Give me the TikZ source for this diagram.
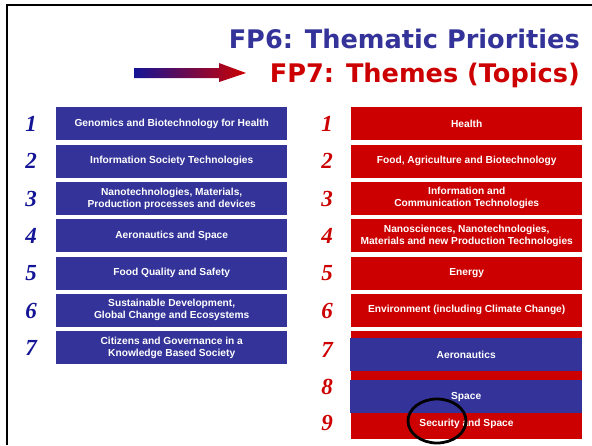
\documentclass[tikz,border=0pt]{standalone}
\usepackage{fontspec}
\setmainfont{Liberation Sans}
\newfontfamily\titlefont{DejaVu Sans}
\newfontfamily\numfont{Liberation Serif}
\definecolor{fpblue}{RGB}{51,51,153}
\definecolor{fpred}{RGB}{204,0,0}
\definecolor{numblue}{RGB}{20,20,150}
\newcommand{\rh}{37.33}

\begin{document}
\begin{tikzpicture}[x=1pt,y=-1pt,
    rect/.style={rectangle, anchor=north west, minimum width=231pt, minimum height=33pt, inner sep=0pt, text=white, align=center, font=\fontsize{10.2}{12}\selectfont\bfseries},
    bluebox/.style={rect, fill=fpblue},
    redbox/.style={rect, fill=fpred},
    num/.style={font=\numfont\fontsize{23}{23}\selectfont\bfseries\itshape, inner sep=0pt}]
    \useasboundingbox (0,0) rectangle (592,445);

    % frame
    \draw[line width=2.5pt] (7,445) -- (7,5) -- (592,5);

    % title
    \node[anchor=base east, text=fpblue, font=\titlefont\fontsize{25.6}{30}\selectfont\bfseries, inner sep=0pt] (fp6title) at (580,48) {FP6: Thematic Priorities};
    \node[anchor=base east, text=fpred, font=\titlefont\fontsize{25.6}{30}\selectfont\bfseries, inner sep=0pt] (fp7title) at (580,82) {FP7: Themes (Topics)};
    \shade[left color=numblue, right color=fpred] (134,68) -- (219,68) -- (219,63) -- (246,73) -- (219,82) -- (219,78) -- (134,78) -- cycle;

    % FP6 column
    \node[bluebox] (fp6-1) at (56,107+0*\rh) {Genomics and Biotechnology for Health};
    \node[bluebox] (fp6-2) at (56,107+1*\rh) {Information Society Technologies};
    \node[bluebox] (fp6-3) at (56,107+2*\rh) {Nanotechnologies, Materials,\\Production processes and devices};
    \node[bluebox] (fp6-4) at (56,107+3*\rh) {Aeronautics and Space};
    \node[bluebox] (fp6-5) at (56,107+4*\rh) {Food Quality and Safety};
    \node[bluebox] (fp6-6) at (56,107+5*\rh) {Sustainable Development,\\Global Change and Ecosystems};
    \node[bluebox] (fp6-7) at (56,107+6*\rh) {Citizens and Governance in a\\Knowledge Based Society};

    \node[num, text=numblue] (n6-1) at (31,124+0*\rh) {1};
    \node[num, text=numblue] (n6-2) at (31,124+1*\rh) {2};
    \node[num, text=numblue] (n6-3) at (31,124+2*\rh) {3};
    \node[num, text=numblue] (n6-4) at (31,124+3*\rh) {4};
    \node[num, text=numblue] (n6-5) at (31,124+4*\rh) {5};
    \node[num, text=numblue] (n6-6) at (31,124+5*\rh) {6};
    \node[num, text=numblue] (n6-7) at (31,124+6*\rh) {7};

    % FP7 column
    \node[redbox] (fp7-1) at (351,107+0*\rh) {Health};
    \node[redbox] (fp7-2) at (351,107+1*\rh) {Food, Agriculture and Biotechnology};
    \node[redbox] (fp7-3) at (351,107+2*\rh) {Information and\\Communication Technologies};
    \node[redbox] (fp7-4) at (351,107+3*\rh) {Nanosciences, Nanotechnologies,\\Materials and new Production Technologies};
    \node[redbox] (fp7-5) at (351,107+4*\rh) {Energy};
    \node[redbox] (fp7-6) at (351,107+5*\rh) {Environment (including Climate Change)};
    \node[redbox] (fp7-7) at (351,107+6*\rh) {};
    \node[redbox] (fp7-8) at (351,107+7*\rh) {};
    \node[redbox] (fp7-9) at (351,107+8*\rh) {};
    \node[text=white, font=\fontsize{10.2}{12}\selectfont\bfseries, inner sep=0pt] (sec) at (466.5,424) {Security and Space};
    \node[bluebox, minimum width=232pt] (aero) at (350,338) {Aeronautics};
    \node[bluebox, minimum width=232pt] (space) at (350,380) {Space};

    \node[num, text=fpred] (n7-1) at (327,124+0*\rh) {1};
    \node[num, text=fpred] (n7-2) at (327,124+1*\rh) {2};
    \node[num, text=fpred] (n7-3) at (327,124+2*\rh) {3};
    \node[num, text=fpred] (n7-4) at (327,124+3*\rh) {4};
    \node[num, text=fpred] (n7-5) at (327,124+4*\rh) {5};
    \node[num, text=fpred] (n7-6) at (327,124+5*\rh) {6};
    \node[num, text=fpred] (n7-7) at (327,350) {7};
    \node[num, text=fpred] (n7-8) at (327,387) {8};
    \node[num, text=fpred] (n7-9) at (327,423) {9};

    % mark
    \draw[line width=2.8pt] (437,421) ellipse [x radius=29pt, y radius=22pt];
\end{tikzpicture}
\end{document}
